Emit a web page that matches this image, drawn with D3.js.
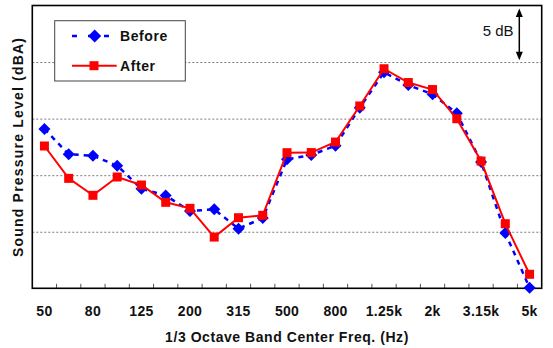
<!DOCTYPE html>
<html><head><meta charset="utf-8">
<script src="https://cdn.jsdelivr.net/npm/d3@7"></script>
<style>
html,body{margin:0;padding:0;background:#fff;}
svg{display:block;font-family:Arial,"Liberation Sans",sans-serif;}
</style></head>
<body><svg id="c" width="553" height="348"></svg>
<script>
const categories = ["50","63","80","100","125","160","200","250","315","400","500","630","800","1k","1.25k","1.6k","2k","2.5k","3.15k","4k","5k"];
const tickLabels = ["50","80","125","200","315","500","800","1.25k","2k","3.15k","5k"];
const beforeValues = [14.08,11.85,11.72,10.84,8.80,8.20,6.83,6.98,5.27,6.21,11.41,11.78,12.61,15.97,19.09,17.97,17.15,15.47,11.17,4.89,0.05];
const afterValues  = [12.58,9.72,8.22,9.84,9.13,7.60,7.07,4.53,6.24,6.45,11.99,12.00,12.93,16.12,19.41,18.19,17.57,14.99,11.25,5.71,1.24];
const gridValues = [5,10,15,20];
const yDomain = [0,25];
const scaleBar = {from:24.7, to:20.2, label:"5 dB"};
const seriesNames = ["Before","After"];

const svg = d3.select("#c");
const L=32.3, R=541.7, T=5.5, B=288.3;
const x = d3.scaleBand().domain(categories).range([L,R]).paddingInner(0).paddingOuter(0);
const bw = x.bandwidth();
const cx = c => x(c)+bw/2;
const y = d3.scaleLinear().domain(yDomain).range([B,T]);

// gridlines
const grid = svg.append("g").attr("transform",`translate(${L},0)`)
  .call(d3.axisLeft(y).tickValues(gridValues).tickSize(-(R-L)).tickFormat(""));
grid.select(".domain").remove();
grid.selectAll("line").attr("stroke","#7a7a7a").attr("stroke-width",1).attr("stroke-dasharray","2,2");

// inner ticks at band boundaries
svg.append("g").selectAll("line").data(categories.slice(1)).join("line")
  .attr("x1",d=>x(d)).attr("x2",d=>x(d)).attr("y1",B).attr("y2",B-4.5)
  .attr("stroke","#555").attr("stroke-width",1);

// x tick labels
const xa = svg.append("g").attr("transform",`translate(0,${B})`)
  .call(d3.axisBottom(x).tickValues(tickLabels).tickSize(0));
xa.select(".domain").remove();
xa.selectAll("text").attr("y",27.4).attr("dy",null)
  .attr("font-size","14px").attr("font-weight","bold").attr("fill","#111")
  .attr("font-family","Arial, 'Liberation Sans', sans-serif").style("letter-spacing","0.3px");

// frame
svg.append("rect").attr("x",L).attr("y",T).attr("width",R-L).attr("height",B-T)
  .attr("fill","none").attr("stroke","#000").attr("stroke-width",1.6);

// Before series
const line = d3.line().x((d,i)=>cx(categories[i])).y(d=>y(d));
svg.append("path").datum(beforeValues).attr("d",line).attr("fill","none")
  .attr("stroke","#0000ff").attr("stroke-width",2.5).attr("stroke-dasharray","5,5");
const diamond = (px,py,r)=>`M${px},${py-r}L${px+r},${py}L${px},${py+r}L${px-r},${py}Z`;
svg.append("g").selectAll("path").data(beforeValues).join("path")
  .attr("d",(d,i)=>diamond(cx(categories[i]),y(d),6)).attr("fill","#0000ff");

// After series
svg.append("path").datum(afterValues).attr("d",line).attr("fill","none")
  .attr("stroke","#ff0000").attr("stroke-width",2);
svg.append("g").selectAll("rect").data(afterValues).join("rect")
  .attr("x",(d,i)=>cx(categories[i])-4.5).attr("y",d=>y(d)-4.5)
  .attr("width",9).attr("height",9).attr("fill","#ff0000");

// legend
const lg = svg.append("g");
lg.append("rect").attr("x",54.7).attr("y",20.7).attr("width",130.6).attr("height",60.3)
  .attr("fill","#fff").attr("stroke","#444").attr("stroke-width",1);
lg.append("line").attr("x1",72).attr("x2",116).attr("y1",36).attr("y2",36)
  .attr("stroke","#0000ff").attr("stroke-width",2.5).attr("stroke-dasharray","5,11");
lg.append("path").attr("d",diamond(94.7,36,6.5)).attr("fill","#0000ff");
lg.append("line").attr("x1",72).attr("x2",116.7).attr("y1",65.7).attr("y2",65.7)
  .attr("stroke","#ff0000").attr("stroke-width",2);
lg.append("rect").attr("x",94-4.5).attr("y",65.7-4.5).attr("width",9).attr("height",9).attr("fill","#ff0000");
lg.selectAll("text").data(seriesNames).join("text")
  .attr("x",120).attr("y",(d,i)=>i?70.7:40.7).text(d=>d)
  .attr("font-size","14px").attr("font-weight","bold").attr("fill","#111").style("letter-spacing","0.6px");

// 5 dB scale arrow
const ax = 519.3, y1 = y(scaleBar.from), y2 = y(scaleBar.to);
svg.append("line").attr("x1",ax).attr("x2",ax).attr("y1",y1+6).attr("y2",y2-6)
  .attr("stroke","#000").attr("stroke-width",1.5);
svg.append("path").attr("d",`M${ax},${y1-0.5}L${ax-3.5},${y1+8}L${ax+3.5},${y1+8}Z`).attr("fill","#000");
svg.append("path").attr("d",`M${ax},${y2+0.5}L${ax-3.5},${y2-8}L${ax+3.5},${y2-8}Z`).attr("fill","#000");
svg.append("text").attr("x",513.6).attr("y",36).attr("text-anchor","end")
  .attr("font-size","15px").attr("fill","#111").text(scaleBar.label);

// axis titles
svg.append("text").attr("x",(L+R)/2).attr("y",342).attr("text-anchor","middle")
  .attr("font-size","14px").attr("font-weight","bold").attr("fill","#111")
  .style("letter-spacing","0.55px").text("1/3 Octave Band Center Freq. (Hz)");
svg.append("text").attr("transform",`translate(23.3,${(T+B)/2}) rotate(-90)`)
  .attr("text-anchor","middle").attr("font-size","14px").attr("font-weight","bold").attr("fill","#111")
  .style("letter-spacing","1.2px").text("Sound Pressure Level (dBA)");
</script></body></html>
